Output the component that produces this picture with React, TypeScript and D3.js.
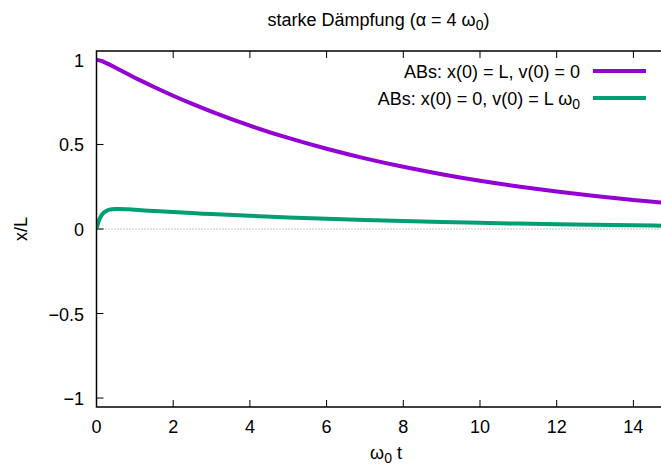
import React from "react";
import * as d3 from "d3";

const tValues = [0, 0.05, 0.1, 0.15, 0.2, 0.3, 0.4, 0.5, 0.6, 0.8, 1, 1.25, 1.5, 2, 2.5, 3, 4, 5, 6, 7, 8, 9, 10, 11, 12, 13, 14, 14.75];
const seriesA = [1, 0.9989, 0.9961, 0.9922, 0.9875, 0.9769, 0.9653, 0.9535, 0.9417, 0.9182, 0.8952, 0.8672, 0.8401, 0.7884, 0.7399, 0.6943, 0.6115, 0.5386, 0.4744, 0.4178, 0.3679, 0.3241, 0.2854, 0.2514, 0.2214, 0.195, 0.1717, 0.1561];
const seriesB = [0, 0.0412, 0.0687, 0.087, 0.0991, 0.1121, 0.1172, 0.1186, 0.1185, 0.1164, 0.1137, 0.1101, 0.1067, 0.1001, 0.094, 0.0882, 0.0777, 0.0684, 0.0603, 0.0531, 0.0467, 0.0412, 0.0363, 0.0319, 0.0281, 0.0248, 0.0218, 0.0198];
const xTicks = [0, 2, 4, 6, 8, 10, 12, 14];
const yTicks = [-1, -0.5, 0, 0.5, 1];
const yTickLabels = ["\u22121", "\u22120.5", "0", "0.5", "1"];

const W = 661, H = 466;
const L = 96.5, R = 662, T = 51, B = 407;
const FONT = "'Liberation Sans', Arial, Helvetica, sans-serif";

export default function App() {
  const x = d3.scaleLinear().domain([0, 14.72]).range([L, 661]);
  const y = d3.scaleLinear().domain([-1.053, 1.053]).range([B, T]);
  const line = (vals: number[]) =>
    d3.line<number>().x((_, i) => x(tValues[i])).y((v) => y(v)).curve(d3.curveMonotoneX)(vals) || "";
  const purple = "#9400d3";
  const green = "#009e73";
  return (
    <svg width={W} height={H} style={{ position: "absolute", left: 0, top: 0, background: "#fff" }} fontFamily={FONT}>
      <defs>
        <clipPath id="plot">
          <rect x={L} y={T} width={R - L} height={B - T} />
        </clipPath>
      </defs>
      <rect x={0} y={0} width={W} height={H} fill="#fff" />
      {/* zero axis */}
      <line x1={L} x2={R} y1={y(0)} y2={y(0)} stroke="#888" strokeWidth={1} strokeDasharray="1,2" />
      {/* ticks */}
      {xTicks.map((t) => (
        <g key={"xt" + t}>
          <line x1={x(t)} x2={x(t)} y1={B} y2={B - 7} stroke="#000" strokeWidth={1} />
          <line x1={x(t)} x2={x(t)} y1={T} y2={T + 7} stroke="#000" strokeWidth={1} />
          <text x={x(t)} y={433} textAnchor="middle" fontSize={18} fill="#000">{t}</text>
        </g>
      ))}
      {yTicks.map((v, i) => (
        <g key={"yt" + v}>
          <line x1={L} x2={L + 7} y1={y(v)} y2={y(v)} stroke="#000" strokeWidth={1} />
          <text x={84} y={y(v) + 7} textAnchor="end" fontSize={18} fill="#000">{yTickLabels[i]}</text>
        </g>
      ))}
      {/* curves */}
      <g clipPath="url(#plot)">
        <path d={line(seriesA)} fill="none" stroke={purple} strokeWidth={4} />
        <path d={line(seriesB)} fill="none" stroke={green} strokeWidth={4} />
      </g>
      {/* border */}
      <path d={`M${R},${T}H${L}V${B}H${R}`} fill="none" stroke="#000" strokeWidth={1.5} />
      {/* legend */}
      <text x={580} y={78} textAnchor="end" fontSize={18} fill="#000">ABs: x(0) = L, v(0) = 0</text>
      <line x1={593} x2={646} y1={71} y2={71} stroke={purple} strokeWidth={4} />
      <text x={580} y={104.5} textAnchor="end" fontSize={18} fill="#000">
        ABs: x(0) = 0, v(0) = L ω<tspan fontSize={14} dy={4}>0</tspan>
      </text>
      <line x1={593} x2={646} y1={98} y2={98} stroke={green} strokeWidth={4} />
      {/* title */}
      <text x={378.5} y={26} textAnchor="middle" fontSize={18} fill="#000">
        starke Dämpfung (α = 4 ω<tspan fontSize={14} dy={4}>0</tspan><tspan dy={-4}>)</tspan>
      </text>
      {/* axis labels */}
      <text x={386} y={459} textAnchor="middle" fontSize={18} fill="#000">
        ω<tspan fontSize={14} dy={4}>0</tspan><tspan dy={-4}> t</tspan>
      </text>
      <text transform={`translate(27,229) rotate(-90)`} textAnchor="middle" fontSize={18} fill="#000">x/L</text>
    </svg>
  );
}
